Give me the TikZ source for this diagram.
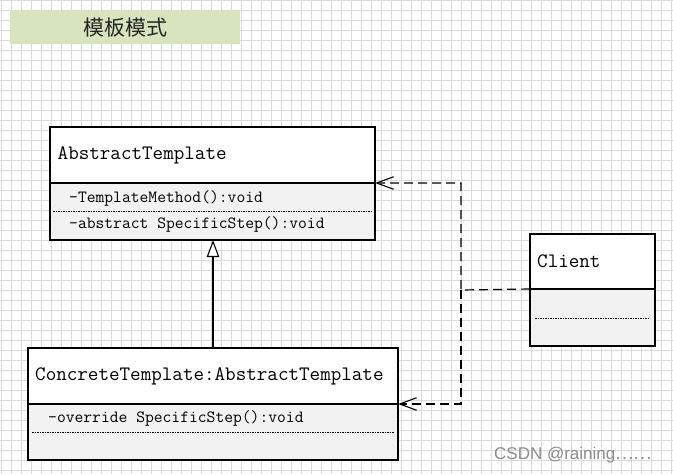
\documentclass[tikz,border=0pt]{standalone}
\usepackage{fontspec}
\newfontfamily\cjkfont{Noto Sans CJK SC}
\newfontfamily\wmfont{Liberation Sans}
\usetikzlibrary{positioning, arrows.meta, calc}
\definecolor{titlegreen}{RGB}{215,228,189}
\definecolor{bodygray}{RGB}{242,242,242}
\definecolor{gridgray}{RGB}{218,218,218}

\begin{document}
\begin{tikzpicture}[x=1pt, y=-1pt,
  gridline/.style={gridgray, line width=0.6pt},
  hdr/.style={draw, line width=1.1pt, fill=white, inner sep=0pt, outer sep=0pt, anchor=north west},
  bdy/.style={draw, line width=1.1pt, fill=bodygray, inner sep=0pt, outer sep=0pt, anchor=north},
  cname/.style={anchor=west, inner sep=0pt, font=\ttfamily\fontsize{20.5}{22}\selectfont},
  mth/.style={anchor=west, inner sep=0pt, font=\ttfamily\fontsize{17.1}{19}\selectfont},
  sepline/.style={line width=0.6pt, dash pattern=on 1.6pt off 0.9pt},
  inh/.style={line width=1.1pt, -{Triangle[length=17pt, width=12.5pt, fill=white, line width=1.1pt]}},
  dep/.style={line width=1.2pt, dash pattern=on 9pt off 5pt, -{Straight Barb[length=17pt, width=12.5pt, line width=1.1pt]}}]
  \useasboundingbox (0,0) rectangle (673,474);
  \fill[white] (0,0) rectangle (673,474);
  % grid
  \foreach \gx in {1.5,11.5,...,671.5} \draw[gridline] (\gx,0) -- (\gx,474);
  \foreach \gy in {0,10,...,470} \draw[gridline] (0,\gy) -- (673,\gy);

  % title
  \node[fill=titlegreen, minimum width=230pt, minimum height=34pt, inner sep=0pt, anchor=north west,
        font=\cjkfont\fontsize{21}{24}\selectfont, text=black!85] (title) at (10,10) {模板模式};

  % AbstractTemplate
  \node[hdr, minimum width=325pt, minimum height=56pt] (absH) at (50,127) {};
  \node[bdy, minimum width=325pt, minimum height=57pt] (absB) at (absH.south) {};
  \node[cname, right=7.5pt of absH.west] (absT) {AbstractTemplate};
  \node[mth] (absM1) at (69,198) {-TemplateMethod():void};
  \draw[sepline] (53,211) -- (372,211);
  \node[mth] (absM2) at (69,224) {-abstract SpecificStep():void};

  % ConcreteTemplate
  \node[hdr, minimum width=370pt, minimum height=56pt] (conH) at (28,348) {};
  \node[bdy, minimum width=370pt, minimum height=56pt] (conB) at (conH.south) {};
  \node[cname, right=7pt of conH.west] (conT) {ConcreteTemplate:AbstractTemplate};
  \node[mth] (conM1) at (48,418) {-override SpecificStep():void};
  \draw[sepline] (32,432) -- (394,432);

  % Client
  \node[hdr, minimum width=125pt, minimum height=55pt] (cliH) at (530,234) {};
  \node[bdy, minimum width=125pt, minimum height=57pt] (cliB) at (cliH.south) {};
  \node[cname, right=7pt of cliH.west] (cliT) {Client};
  \draw[sepline] (535,318) -- (650,318);

  % connectors
  \draw[inh] (conH.north) -- (conH.north |- absB.south);
  \coordinate (jn) at (461,290);
  \draw[dep] (cliB.north west) -- (jn) |- (absB.north east);
  \draw[dep] (jn) |- (conB.north east);

  \node[anchor=west, inner sep=0pt, text=black!45, font=\wmfont\fontsize{17}{20}\selectfont] (wm) at (494,455) {CSDN @raining{\cjkfont ……}};
\end{tikzpicture}
\end{document}
